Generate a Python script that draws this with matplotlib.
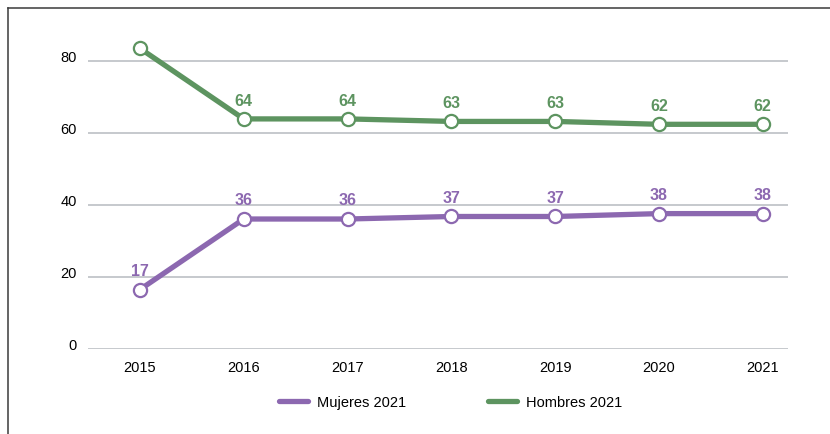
import matplotlib
matplotlib.use("Agg")
import matplotlib.pyplot as plt
import matplotlib.transforms as mtrans
from matplotlib.lines import Line2D

plt.rcParams['font.family'] = ['Liberation Sans', 'DejaVu Sans']

years = ['2015', '2016', '2017', '2018', '2019', '2020', '2021']
mujeres = [16.5, 36.1, 36.1, 36.8, 36.8, 37.6, 37.6]
hombres = [83.5, 63.9, 63.9, 63.2, 63.2, 62.4, 62.4]
mujeres_lbl = ['17', '36', '36', '37', '37', '38', '38']
hombres_lbl = ['', '64', '64', '63', '63', '62', '62']
yticks = [0, 20, 40, 60, 80]

c_muj = '#8c68b0'
c_hom = '#5d9460'
c_grid = '#c6c9cd'

fig = plt.figure(figsize=(8.3, 4.35), dpi=100)
ax = fig.add_axes([0.106, 0.1954, 0.843, 0.745])

x = list(range(len(years)))
for yv in yticks:
    ax.axhline(yv, color=c_grid, lw=1.4, zorder=0)

ax.plot(x, mujeres, color=c_muj, lw=3.8, marker='o', ms=9.5, mfc='white',
        mec=c_muj, mew=1.6, solid_capstyle='round', clip_on=False, zorder=3)
ax.plot(x, hombres, color=c_hom, lw=3.8, marker='o', ms=9.5, mfc='white',
        mec=c_hom, mew=1.6, solid_capstyle='round', clip_on=False, zorder=3)

for i in x:
    ax.annotate(mujeres_lbl[i], (i, mujeres[i]), xytext=(0, 14), textcoords='offset points',
                ha='center', va='center', color=c_muj, fontsize=11.5, fontweight='bold')
    if hombres_lbl[i]:
        ax.annotate(hombres_lbl[i], (i, hombres[i]), xytext=(0, 13.5), textcoords='offset points',
                    ha='center', va='center', color=c_hom, fontsize=11.5, fontweight='bold')

ax.set_xlim(-0.5, 6.24)
ax.set_ylim(0, 90)
ax.set_xticks(x)
ax.set_xticklabels(years, fontsize=10.5)
ax.set_yticks(yticks)
ax.set_yticklabels([str(v) for v in yticks], fontsize=10.5)
ax.tick_params(length=0)
ax.tick_params(axis='x', pad=8)
ax.tick_params(axis='y', pad=8)
for lbl in ax.get_yticklabels():
    lbl.set_transform(lbl.get_transform() + mtrans.ScaledTranslation(0, 4 / 72, fig.dpi_scale_trans))
for s in ax.spines.values():
    s.set_visible(False)

handles = [Line2D([], [], color=c_muj, lw=3.8, solid_capstyle='round'),
           Line2D([], [], color=c_hom, lw=3.8, solid_capstyle='round')]
fig.legend(handles, ['Mujeres 2021', 'Hombres 2021'], loc='center', bbox_to_anchor=(0.543, 0.073),
           ncol=2, frameon=False, fontsize=10.5, handlelength=2.0, handletextpad=0.6, columnspacing=5.6)

# frame lines (top and left)
fig.add_artist(Line2D([0.0098, 1.0], [0.979, 0.979], color='#3a3a3a', lw=1.1, transform=fig.transFigure))
fig.add_artist(Line2D([0.0098, 0.0098], [0.0, 0.979], color='#3a3a3a', lw=1.1, transform=fig.transFigure))

fig.savefig('out.png', dpi=100)
